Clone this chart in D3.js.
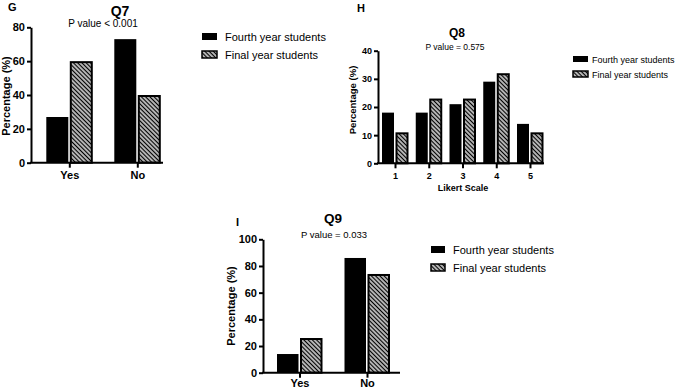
<!DOCTYPE html>
<html>
<head>
<meta charset="utf-8">
<script src="https://cdn.jsdelivr.net/npm/d3@7"></script>
<style>
  body { margin: 0; background: #fff; }
  svg { font-family: "Liberation Sans", Arial, sans-serif; }
  .axis path, .axis line { stroke: #000; stroke-width: 2; }
  .axis text { font-weight: bold; fill: #000; font-family: "Liberation Sans", Arial, sans-serif; }
</style>
</head>
<body>
<svg id="fig" width="677" height="390"></svg>
<script>
// data
const seriesNames = ['Fourth year students', 'Final year students']

const q7Cats = ['Yes', 'No']
const q7Fourth = [27, 73]
const q7Final = [60, 40]
const q7Ticks = [0, 20, 40, 60, 80]

const q8Cats = ['1', '2', '3', '4', '5']
const q8Fourth = [18, 18, 21, 29, 14]
const q8Final = [11, 23, 23, 32, 11]
const q8Ticks = [0, 10, 20, 30, 40]

const q9Cats = ['Yes', 'No']
const q9Fourth = [14, 86]
const q9Final = [26, 74]
const q9Ticks = [0, 20, 40, 60, 80, 100]

const svg = d3.select('#fig')

// hatch pattern
const defs = svg.append('defs')
const pat = defs.append('pattern')
  .attr('id', 'hatch')
  .attr('patternUnits', 'userSpaceOnUse')
  .attr('width', 3)
  .attr('height', 3)
  .attr('patternTransform', 'rotate(-45)')
pat.append('rect').attr('width', 3).attr('height', 3).attr('fill', '#fff')
pat.append('line')
  .attr('x1', 1.5).attr('y1', 0).attr('x2', 1.5).attr('y2', 3)
  .attr('stroke', '#000').attr('stroke-width', 1.6)

function panel (o) {
  const g = svg.append('g')
  const y = d3.scaleLinear().domain([0, o.ticks[o.ticks.length - 1]]).range([o.y0, o.yTop])
  const x = d3.scalePoint().domain(o.cats).range([o.cx0, o.cx1])

  // bars
  const rows = o.cats.map((c, i) => ({ c, a: o.fourth[i], b: o.final[i] }))
  g.selectAll('rect.fourth').data(rows).join('rect')
    .attr('class', 'fourth')
    .attr('x', d => x(d.c) - o.bw - 1)
    .attr('y', d => y(d.a))
    .attr('width', o.bw)
    .attr('height', d => y(0) - y(d.a))
    .attr('fill', '#000')
  g.selectAll('rect.final').data(rows).join('rect')
    .attr('class', 'final')
    .attr('x', d => x(d.c) + 1.5)
    .attr('y', d => y(d.b) + 1)
    .attr('width', o.bw - 1)
    .attr('height', d => y(0) - y(d.b) - 1)
    .attr('fill', 'url(#hatch)')
    .attr('stroke', '#000')
    .attr('stroke-width', 2)

  // axes
  const ya = g.append('g').attr('class', 'axis')
    .attr('transform', `translate(${o.ax},0)`)
    .call(d3.axisLeft(y).tickValues(o.ticks).tickSize(4).tickSizeOuter(0).tickPadding(2))
  ya.selectAll('text').style('font-size', o.tickFont + 'px')

  const xa = g.append('g').attr('class', 'axis')
    .attr('transform', `translate(0,${o.y0})`)
    .call(d3.axisBottom(x).tickSize(5).tickPadding(o.xPad))
  xa.select('.domain').remove()
  xa.selectAll('text').style('font-size', o.tickFont + 'px')
  g.append('line')
    .attr('x1', o.ax - 1).attr('x2', o.axEnd)
    .attr('y1', o.y0).attr('y2', o.y0)
    .attr('stroke', '#000').attr('stroke-width', 2)

  // texts
  g.append('text').attr('x', o.letter[0]).attr('y', o.letter[1])
    .attr('font-weight', 'bold').attr('font-size', 11).text(o.letterText)
  g.append('text').attr('x', o.title[0]).attr('y', o.title[1])
    .attr('text-anchor', 'middle').attr('font-weight', 'bold')
    .attr('font-size', o.titleFont).text(o.titleText)
  g.append('text').attr('x', o.pval[0]).attr('y', o.pval[1])
    .attr('text-anchor', 'middle').attr('font-size', o.pFont).text(o.pText)
  g.append('text')
    .attr('transform', `translate(${o.ylab[0]},${o.ylab[1]}) rotate(-90)`)
    .attr('text-anchor', 'middle').attr('font-weight', 'bold')
    .attr('font-size', o.ylabFont).text('Percentage (%)')
  if (o.xlabText) {
    g.append('text').attr('x', o.xlab[0]).attr('y', o.xlab[1])
      .attr('text-anchor', 'middle').attr('font-weight', 'bold')
      .attr('font-size', o.tickFont).text(o.xlabText)
  }

  // legend
  const lg = g.append('g').attr('transform', `translate(${o.leg[0]},${o.leg[1]})`)
  seriesNames.forEach((name, i) => {
    const row = lg.append('g').attr('transform', `translate(0,${i * o.legStep})`)
    row.append('rect')
      .attr('x', 0).attr('y', -o.sw[1] - 1)
      .attr('width', o.sw[0]).attr('height', o.sw[1])
      .attr('fill', i === 0 ? '#000' : 'url(#hatch)')
      .attr('stroke', '#000').attr('stroke-width', i === 0 ? 0 : 1.5)
    row.append('text')
      .attr('x', o.sw[0] + o.legGap).attr('y', 0)
      .attr('font-size', o.legFont).text(name)
  })
}

panel({
  cats: q7Cats, fourth: q7Fourth, final: q7Final, ticks: q7Ticks,
  y0: 162.7, yTop: 27.3, cx0: 69.3, cx1: 137.3, bw: 22, ax: 31, axEnd: 163,
  tickFont: 11, xPad: 4,
  letterText: 'G', letter: [8, 11],
  titleText: 'Q7', title: [120, 16], titleFont: 14,
  pText: 'P value < 0.001', pval: [103, 27], pFont: 10,
  ylab: [10, 96], ylabFont: 11,
  leg: [202, 41], legStep: 18, sw: [15, 7], legGap: 8, legFont: 11
})

panel({
  cats: q8Cats, fourth: q8Fourth, final: q8Final, ticks: q8Ticks,
  y0: 163.3, yTop: 50.7, cx0: 395, cx1: 530, bw: 12, ax: 378, axEnd: 544,
  tickFont: 9, xPad: 4,
  letterText: 'H', letter: [357, 12],
  titleText: 'Q8', title: [457, 37], titleFont: 12,
  pText: 'P value = 0.575', pval: [455, 50], pFont: 8.5,
  ylab: [356, 100], ylabFont: 9.5,
  xlabText: 'Likert Scale', xlab: [463, 191],
  leg: [573, 63], legStep: 15, sw: [15, 6], legGap: 4, legFont: 9
})

panel({
  cats: q9Cats, fourth: q9Fourth, final: q9Final, ticks: q9Ticks,
  y0: 372.7, yTop: 239.3, cx0: 299.5, cx1: 367, bw: 21.5, ax: 263, axEnd: 400,
  tickFont: 11, xPad: 2,
  letterText: 'I', letter: [236, 226],
  titleText: 'Q9', title: [333, 223], titleFont: 13.5,
  pText: 'P value = 0.033', pval: [334, 238], pFont: 9.5,
  ylab: [235, 306], ylabFont: 11,
  leg: [431, 254], legStep: 18, sw: [14, 7], legGap: 8, legFont: 11
})
</script>
</body>
</html>
